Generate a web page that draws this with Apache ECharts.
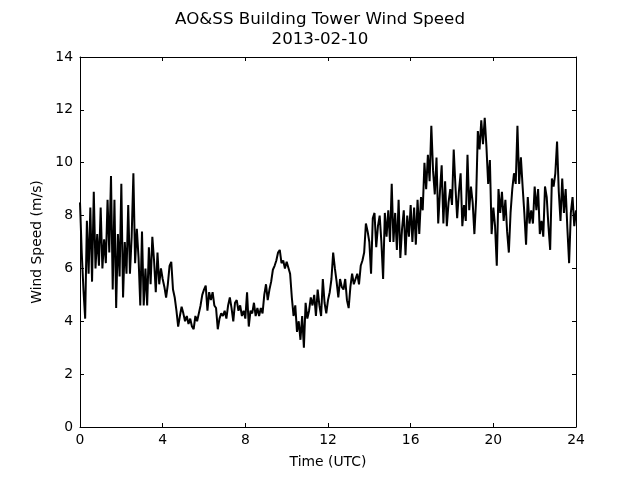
<!DOCTYPE html>
<html>
<head>
<meta charset="utf-8">
<script src="https://cdn.jsdelivr.net/npm/echarts@6/dist/echarts.min.js"></script>
<style>html,body{margin:0;padding:0;background:#fff;}#c{width:640px;height:480px;}</style>
</head>
<body>
<div id="c"></div>
<script>
// 5-minute wind speed samples (m/s), one row per UTC hour
const hour00 = [8.5, 6.6, 5.2, 4.1, 7.8, 5.8, 8.3, 5.5, 8.9, 6.0, 7.3, 6.1];
const hour01 = [8.3, 6.0, 7.1, 6.2, 8.6, 6.6, 9.5, 5.2, 8.6, 4.5, 7.3, 5.7];
const hour02 = [9.2, 4.9, 7.0, 5.8, 8.4, 5.8, 7.2, 9.6, 6.2, 7.5, 6.4, 4.6];
const hour03 = [7.4, 4.6, 6.0, 4.6, 6.8, 5.4, 7.2, 6.3, 5.1, 6.6, 5.4, 6.0];
const hour04 = [5.6, 5.3, 4.9, 5.4, 6.1, 6.25, 5.2, 4.9, 4.4, 3.8, 4.2, 4.55];
const hour05 = [4.3, 4.0, 4.2, 3.9, 4.1, 3.8, 3.7, 4.2, 4.0, 4.3, 4.6, 5.0];
const hour06 = [5.2, 5.35, 4.4, 5.1, 4.8, 5.1, 4.6, 4.5, 3.7, 4.1, 4.3, 4.2];
const hour07 = [4.4, 4.1, 4.6, 4.9, 4.5, 4.0, 4.7, 4.8, 4.4, 4.6, 4.2, 4.4];
const hour08 = [4.1, 5.1, 3.8, 4.4, 4.3, 4.7, 4.2, 4.5, 4.2, 4.5, 4.3, 5.0];
const hour09 = [5.4, 4.8, 5.2, 5.5, 5.95, 6.1, 6.3, 6.6, 6.7, 6.2, 6.3, 6.0];
const hour10 = [6.25, 6.3, 5.8, 4.9, 4.2, 4.6, 3.6, 4.0, 3.3, 4.2, 3.0, 4.7];
const hour11 = [4.1, 4.4, 4.9, 4.6, 5.0, 4.2, 5.2, 4.6, 4.2, 5.6, 4.7, 4.3];
const hour12 = [4.8, 5.1, 5.6, 6.6, 6.0, 5.5, 4.9, 5.6, 5.3, 5.2, 5.6, 4.8];
const hour13 = [4.5, 5.3, 5.8, 5.4, 5.6, 5.8, 5.4, 6.1, 6.3, 6.6, 7.7, 7.4];
const hour14 = [7.0, 5.8, 7.9, 8.1, 6.8, 7.6, 8.0, 7.0, 5.6, 8.1, 7.2, 8.2];
const hour15 = [7.0, 9.2, 7.0, 8.1, 6.7, 8.6, 6.4, 7.5, 8.2, 6.5, 8.0, 7.2];
const hour16 = [8.4, 7.0, 8.3, 6.9, 8.6, 7.3, 8.7, 8.2, 10.0, 9.0, 10.3, 9.3];
const hour17 = [11.4, 9.7, 8.8, 10.2, 7.7, 8.9, 9.9, 7.7, 9.3, 7.6, 8.5, 9.0];
const hour18 = [8.4, 10.5, 9.1, 7.9, 8.9, 9.6, 7.6, 8.4, 7.8, 10.3, 8.2, 9.1];
const hour19 = [8.5, 7.3, 8.6, 11.2, 10.5, 11.6, 10.7, 11.7, 10.6, 9.2, 10.1, 7.3];
const hour20 = [8.3, 7.6, 6.1, 9.0, 8.1, 8.9, 7.8, 8.6, 7.4, 6.6, 8.1, 9.0];
const hour21 = [9.6, 9.2, 11.4, 9.2, 10.2, 9.1, 8.1, 6.9, 8.7, 7.7, 8.2, 7.7];
const hour22 = [9.1, 8.2, 9.0, 7.3, 7.8, 7.2, 9.1, 8.7, 7.6, 6.7, 9.4, 9.1];
const hour23 = [9.6, 10.8, 8.9, 7.8, 9.4, 8.1, 9.0, 7.5, 6.2, 8.1, 8.7, 7.6];
const lastSample = [8.2];

const xTicks = [0, 4, 8, 12, 16, 20, 24];
const yTicks = [0, 2, 4, 6, 8, 10, 12, 14];

const hours = [hour00,hour01,hour02,hour03,hour04,hour05,hour06,hour07,hour08,hour09,hour10,hour11,
               hour12,hour13,hour14,hour15,hour16,hour17,hour18,hour19,hour20,hour21,hour22,hour23,lastSample];
const speed = [].concat(...hours);
const seriesData = speed.map((v, i) => [i / 12, v]);

const font = 'DejaVu Sans';
const axisCommon = {
  axisLine: {show: true, onZero: false, lineStyle: {color: '#000', width: 1}},
  axisTick: {show: true, inside: true, length: 4, lineStyle: {color: '#000', width: 1}},
  splitLine: {show: false}
};

const chart = echarts.init(document.getElementById('c'), null, {renderer: 'canvas'});
chart.setOption({
  animation: false,
  backgroundColor: '#fff',
  title: {
    text: 'AO&SS Building Tower Wind Speed\n2013-02-10',
    left: 'center', top: 5,
    textStyle: {fontFamily: font, fontSize: 16.7, fontWeight: 'normal', color: '#000', lineHeight: 20}
  },
  grid: {left: 80, right: 64, top: 57, bottom: 53, containLabel: false},
  xAxis: [
    Object.assign({}, axisCommon, {
      type: 'value', min: xTicks[0], max: xTicks[xTicks.length - 1], interval: 4, position: 'bottom',
      name: 'Time (UTC)', nameLocation: 'middle', nameGap: 28,
      nameTextStyle: {fontFamily: font, fontSize: 13.9, color: '#000'},
      axisLabel: {fontFamily: font, fontSize: 13.9, color: '#000', margin: 6}
    }),
    Object.assign({}, axisCommon, {
      type: 'value', min: xTicks[0], max: xTicks[xTicks.length - 1], interval: 4, position: 'top',
      axisLabel: {show: false}
    })
  ],
  yAxis: [
    Object.assign({}, axisCommon, {
      type: 'value', min: yTicks[0], max: yTicks[yTicks.length - 1], interval: 2, position: 'left',
      name: 'Wind Speed (m/s)', nameLocation: 'middle', nameGap: 34, nameRotate: 90,
      nameTextStyle: {fontFamily: font, fontSize: 13.9, color: '#000'},
      axisLabel: {fontFamily: font, fontSize: 13.9, color: '#000', margin: 7}
    }),
    Object.assign({}, axisCommon, {
      type: 'value', min: yTicks[0], max: yTicks[yTicks.length - 1], interval: 2, position: 'right',
      axisLabel: {show: false}
    })
  ],
  series: [{
    type: 'line', xAxisIndex: 0, yAxisIndex: 0,
    data: seriesData, showSymbol: false, symbol: 'none',
    lineStyle: {color: '#000', width: 2}, clip: true
  }]
});
</script>
</body>
</html>
